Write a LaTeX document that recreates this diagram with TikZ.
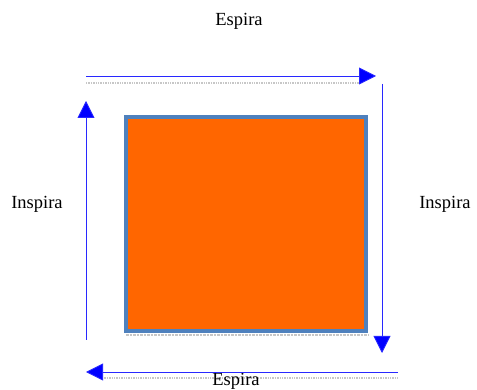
\documentclass[tikz,border=0pt]{standalone}
\usepackage{fontspec}
\setmainfont{Liberation Serif}
\usetikzlibrary{arrows.meta}
\definecolor{flowblue}{RGB}{40,40,255}
\definecolor{boxblue}{RGB}{79,129,189}
\definecolor{lungfill}{RGB}{255,102,0}

\begin{document}
\begin{tikzpicture}[
    x=1pt, y=-1pt,
    flow/.style={draw=flowblue, line width=0.8pt,
                 -{Triangle[length=17pt, width=17pt, fill=blue]}},
    shade/.style={draw=black!22, densely dotted, line width=1.4pt},
    word/.style={font=\fontsize{18.5}{22}\selectfont, inner sep=0pt}
  ]
    \useasboundingbox (0,0) rectangle (477,390);
    % central block
    \node[draw=boxblue, line width=4pt, fill=lungfill, minimum width=240pt,
          minimum height=214pt, inner sep=0pt] (lung) at (246,224) {};
    % shadows
    \draw[shade, line width=2.5pt] (126,335) -- (368,335);
    \draw[shade] (86,83) -- (362,83);
    \draw[shade] (102,378) -- (398,378);
    % labels
    \node[word] (espiraA) at (239,21) {Espira};
    \node[word] (espiraB) at (236,381) {Espira};
    \node[word] (inspiraA) at (37,204) {Inspira};
    \node[word] (inspiraB) at (445,204) {Inspira};
    % arrow ends
    \coordinate (tA) at (86,76);   \coordinate (tB) at (376,76);
    \coordinate (rA) at (382,84);  \coordinate (rB) at (382,353);
    \coordinate (bA) at (398,372); \coordinate (bB) at (86,372);
    \coordinate (lA) at (86,340);  \coordinate (lB) at (86,101);
    \foreach \a/\b in {tA/tB, rA/rB, bA/bB, lA/lB}
      \draw[flow] (\a) -- (\b);
\end{tikzpicture}
\end{document}
